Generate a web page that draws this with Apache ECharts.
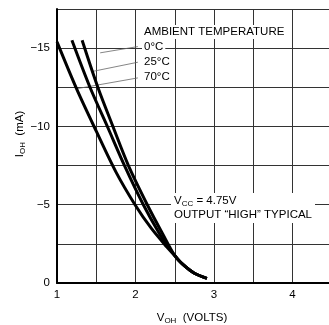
<!DOCTYPE html>
<html><head><meta charset="utf-8">
<script src="https://cdn.jsdelivr.net/npm/echarts@6/dist/echarts.min.js"></script>
<style>html,body{margin:0;padding:0;background:#fff}#c{width:329px;height:325px}</style>
</head><body><div id="c"></div>
<script>
// Axis settings
const xRange = [1, 5];
const yRange = [-17.5, 0];
const xGridStep = 0.5;
const yGridStep = 2.5;

// Temperature labels
const tempLabels = ['0°C', '25°C', '70°C'];

// Curves [V_OH (V), I_OH (mA)]
const curve0C = [[1.32,-15.5],[1.52,-12.5],[1.72,-9.9],[1.91,-7.5],[2.15,-5.0],[2.35,-3.1],[2.5,-1.75],[2.6,-1.2],[2.75,-0.62],[2.91,-0.3]];
const curve25C = [[1.19,-15.5],[1.42,-12.5],[1.65,-9.9],[1.86,-7.5],[2.1,-5.0],[2.3,-3.2],[2.42,-2.3],[2.5,-1.75],[2.6,-1.2],[2.75,-0.62],[2.91,-0.3]];
const curve70C = [[1.0,-15.4],[1.25,-12.4],[1.5,-9.7],[1.75,-7.1],[2.0,-4.95],[2.2,-3.5],[2.4,-2.3],[2.5,-1.75],[2.6,-1.2],[2.75,-0.62],[2.91,-0.3]];

// Leader lines from the temperature labels to the curves
const leader0C = [[2.03,-15.1],[1.55,-14.7]];
const leader25C = [[2.03,-14.1],[1.44,-13.5]];
const leader70C = [[2.03,-13.1],[1.24,-12.4]];

const FONT = '"Liberation Sans", Arial, Helvetica, sans-serif';
const chart = echarts.init(document.getElementById('c'), null, {renderer: 'canvas'});

const curveSeries = (name, data) => ({
  name, type: 'line', data, smooth: 0.3, symbol: 'none', z: 5,
  lineStyle: {color: '#000', width: 3}
});
const leaderSeries = (data) => ({
  type: 'line', data, symbol: 'none', silent: true, z: 3,
  lineStyle: {color: '#666', width: 0.8}
});

const richBase = {
  v: {fontSize: 11.5, fontFamily: FONT, color: '#000', lineHeight: 14},
  s: {fontSize: 8, fontFamily: FONT, color: '#000', lineHeight: 8, verticalAlign: 'bottom'}
};

chart.setOption({
  animation: false,
  backgroundColor: '#fff',
  grid: {left: 57, top: 9, width: 314, height: 274, containLabel: false, outerBoundsMode: 'none'},
  xAxis: {
    type: 'value', min: xRange[0], max: xRange[1], interval: xGridStep,
    axisLine: {show: true, onZero: false, lineStyle: {color: '#000', width: 2}},
    axisTick: {show: false},
    splitLine: {show: true, lineStyle: {color: '#333', width: 1}},
    axisLabel: {
      color: '#000', fontSize: 11.5, fontFamily: FONT, margin: 6,
      formatter: v => Number.isInteger(v) ? String(v) : ''
    },
    name: '{v|V}{s|OH}{v|  (VOLTS)}', nameLocation: 'middle', nameGap: 28, nameMoveOverlap: false,
    nameTextStyle: {rich: richBase, padding: [0, 44, 0, 0]}
  },
  yAxis: {
    type: 'value', min: yRange[0], max: yRange[1], interval: yGridStep, inverse: true,
    axisLine: {show: true, onZero: false, lineStyle: {color: '#000', width: 2}},
    axisTick: {show: false},
    splitLine: {show: true, lineStyle: {color: '#333', width: 1}},
    axisLabel: {
      color: '#000', fontSize: 11.5, fontFamily: FONT, margin: 7,
      formatter: v => (v % 5 === 0) ? (v < 0 ? '\u2212' + Math.abs(v) : String(v)) : ''
    },
    name: '{v|I}{s|OH}{v|  (mA)}', nameLocation: 'middle', nameGap: 30, nameMoveOverlap: false,
    nameTextStyle: {rich: richBase, padding: [0, 0, 0, 24]}
  },
  series: [
    curveSeries(tempLabels[0], curve0C),
    curveSeries(tempLabels[1], curve25C),
    curveSeries(tempLabels[2], curve70C),
    leaderSeries(leader0C),
    leaderSeries(leader25C),
    leaderSeries(leader70C)
  ],
  graphic: [
    {type: 'text', left: 142, top: 25, z: 10, style: {text: 'AMBIENT TEMPERATURE', font: '11.5px ' + FONT, fill: '#000', backgroundColor: '#fff', padding: [1, 2]}},
    {type: 'text', left: 142, top: 40, z: 10, style: {text: tempLabels[0], font: '11.5px ' + FONT, fill: '#000', backgroundColor: '#fff', padding: [1, 2]}},
    {type: 'text', left: 142, top: 55, z: 10, style: {text: tempLabels[1], font: '11.5px ' + FONT, fill: '#000', backgroundColor: '#fff', padding: [1, 2]}},
    {type: 'text', left: 142, top: 70, z: 10, style: {text: tempLabels[2], font: '11.5px ' + FONT, fill: '#000', backgroundColor: '#fff', padding: [1, 2]}},
    {type: 'text', left: 171, top: 193, z: 10, style: {
      text: '{v|V}{s|CC}{v| = 4.75V}\n{v|OUTPUT \u201CHIGH\u201D TYPICAL}',
      rich: richBase, backgroundColor: '#fff', padding: [1, 3]
    }}
  ]
});
</script></body></html>
